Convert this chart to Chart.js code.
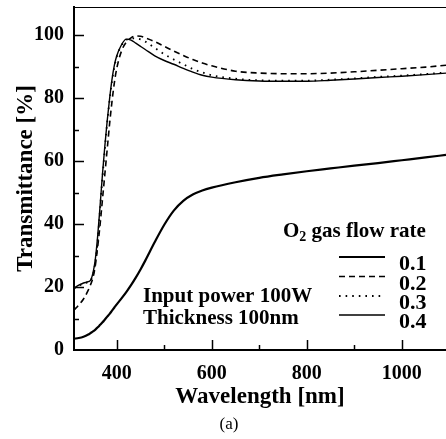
<!DOCTYPE html>
<html>
<head>
<meta charset="utf-8">
<script src="https://cdn.jsdelivr.net/npm/chart.js@4/dist/chart.umd.min.js"></script>
<style>
  html, body { margin: 0; padding: 0; background: #fff; }
  #wrap { width: 446px; height: 439px; position: relative; }
</style>
</head>
<body>
<div id="wrap"><canvas id="transmittance-chart"></canvas></div>
<script>
// wavelength grid [nm], shared by all curves
const wavelength = [310, 320, 330, 340, 345, 350, 355, 360, 365, 370, 375, 380, 385, 390, 395, 400,
    410, 420, 430, 440, 450, 460, 480, 500, 520, 540, 560, 580, 600, 650, 700, 750, 800, 850,
    900, 950, 1000, 1050, 1093];

// transmittance [%] for each O2 gas flow rate
const rate01 = [3.6, 3.8, 4.2, 4.9, 5.4, 5.9, 6.5, 7.2, 8.0, 8.8, 9.7, 10.6, 11.5, 12.5, 13.5, 14.5,
    16.4, 18.4, 20.6, 23.0, 25.6, 28.4, 34.3, 39.8, 44.3, 47.4, 49.4, 50.7, 51.6, 53.3, 54.7, 55.8, 56.8, 57.7,
    58.6, 59.4, 60.3, 61.2, 62.0];
const rate02 = [12.7, 14.3, 16.2, 19.0, 20.8, 23.0, 27.0, 33.0, 40.0, 48.0, 56.0, 64.0, 72.0, 79.0, 85.0, 89.5,
    95.0, 97.8, 99.2, 99.8, 99.7, 99.2, 98.0, 96.5, 95.0, 93.6, 92.3, 91.2, 90.3, 88.6, 88.0, 87.8, 87.8, 88.0,
    88.4, 88.9, 89.4, 89.9, 90.5];
const rate03 = [19.5, 20.4, 21.1, 21.6, 22.0, 24.0, 28.0, 35.0, 45.0, 55.0, 64.0, 72.5, 79.5, 85.5, 90.0, 93.2,
    96.8, 98.5, 99.0, 99.0, 98.7, 98.0, 96.0, 94.0, 92.3, 90.8, 89.3, 88.2, 87.3, 86.2, 85.7, 85.6, 85.6, 85.9,
    86.3, 86.8, 87.2, 87.7, 88.2];
const rate04 = [19.7, 20.6, 21.3, 21.7, 22.2, 24.5, 29.0, 36.5, 46.0, 56.0, 65.0, 73.0, 80.0, 86.0, 90.5, 93.5,
    97.0, 98.8, 98.5, 97.5, 96.5, 95.5, 93.5, 92.0, 90.8, 89.5, 88.3, 87.3, 86.7, 85.9, 85.5, 85.4, 85.4, 85.7,
    86.1, 86.6, 87.0, 87.5, 88.0];

const flowRates = ['0.1', '0.2', '0.3', '0.4'];
const xMajor = [400, 600, 800, 1000];
const xMinor = [500, 700, 900];
const yMajor = [0, 20, 40, 60, 80, 100];
const yMinor = [10, 30, 50, 70, 90];

const serif = '"Liberation Serif", "Times New Roman", serif';
const lineStyles = [
    { dash: [], width: 2.2 },
    { dash: [6, 4], width: 1.6 },
    { dash: [1.6, 5], width: 1.8 },
    { dash: [], width: 1.4 }
];

// inward ticks, top frame line, legend and notes
const decorations = {
    id: 'decorations',
    afterDraw(chart) {
        const ctx = chart.ctx;
        const x = chart.scales.x;
        const y = chart.scales.y;
        const area = chart.chartArea;
        ctx.save();
        ctx.strokeStyle = '#000';

        ctx.lineWidth = 1;
        ctx.beginPath();
        ctx.moveTo(area.left, area.top + 0.5);
        ctx.lineTo(area.right, area.top + 0.5);
        ctx.stroke();

        ctx.lineWidth = 1.5;
        const xTick = (v, len) => {
            const px = Math.round(x.getPixelForValue(v)) + 0.5;
            ctx.beginPath();
            ctx.moveTo(px, area.bottom);
            ctx.lineTo(px, area.bottom - len);
            ctx.stroke();
        };
        const yTick = (v, len) => {
            const py = Math.round(y.getPixelForValue(v)) + 0.5;
            ctx.beginPath();
            ctx.moveTo(area.left, py);
            ctx.lineTo(area.left + len, py);
            ctx.stroke();
        };
        xMajor.forEach(v => xTick(v, 10));
        xMinor.forEach(v => xTick(v, 5));
        yMajor.slice(1).forEach(v => yTick(v, 10));
        yMinor.forEach(v => yTick(v, 5));

        // legend
        ctx.fillStyle = '#000';
        ctx.textBaseline = 'alphabetic';
        ctx.textAlign = 'left';
        ctx.font = 'bold 21px ' + serif;
        ctx.fillText('O', 283, 237);
        let ox = 283 + ctx.measureText('O').width;
        ctx.font = 'bold 14px ' + serif;
        ctx.fillText('2', ox, 241);
        ox += ctx.measureText('2').width;
        ctx.font = 'bold 21px ' + serif;
        ctx.fillText(' gas flow rate', ox, 237);

        const lineY = [257, 276.5, 296, 315];
        flowRates.forEach((r, i) => {
            ctx.setLineDash(lineStyles[i].dash);
            ctx.lineWidth = lineStyles[i].width;
            ctx.beginPath();
            ctx.moveTo(339, lineY[i]);
            ctx.lineTo(385, lineY[i]);
            ctx.stroke();
            ctx.setLineDash([]);
            ctx.font = 'bold 22px ' + serif;
            ctx.fillText(r, 399, lineY[i] + 13);
        });

        ctx.font = 'bold 21px ' + serif;
        ctx.fillText('Input power 100W', 143, 302);
        ctx.fillText('Thickness 100nm', 143, 324);

        ctx.font = '17px ' + serif;
        ctx.textAlign = 'center';
        ctx.fillText('(a)', 229, 429);
        ctx.restore();
    }
};

const setUpChart = () => {
    const ctx = document.getElementById('transmittance-chart');
    const series = [rate01, rate02, rate03, rate04];

    new Chart(ctx, {
        type: 'line',
        data: {
            datasets: series.map((vals, i) => ({
                label: flowRates[i],
                data: wavelength.map((w, j) => ({ x: w, y: vals[j] })),
                borderColor: '#000',
                borderWidth: lineStyles[i].width,
                borderDash: lineStyles[i].dash,
                pointRadius: 0,
                fill: false,
                cubicInterpolationMode: 'monotone'
            }))
        },
        options: {
            responsive: true,
            maintainAspectRatio: false,
            animation: false,
            devicePixelRatio: 1,
            layout: { padding: { top: 7, right: 0, bottom: 28, left: 0 } },
            plugins: { legend: { display: false }, tooltip: { enabled: false } },
            scales: {
                x: {
                    type: 'linear',
                    min: 310,
                    max: 1093,
                    afterBuildTicks: s => { s.ticks = xMajor.map(v => ({ value: v })); },
                    afterFit: s => { s.height = 61; s.paddingLeft = 0; s.paddingRight = 0; },
                    grid: { display: false, drawTicks: false },
                    border: { display: true, color: '#000', width: 2 },
                    ticks: {
                        color: '#000',
                        padding: 12,
                        maxRotation: 0,
                        autoSkip: false,
                        callback: v => String(v),
                        font: { family: serif, size: 20, weight: 'bold' }
                    },
                    title: {
                        display: true,
                        text: 'Wavelength [nm]',
                        color: '#000',
                        padding: 0,
                        font: { family: serif, size: 23, weight: 'bold' }
                    }
                },
                y: {
                    min: 0,
                    max: 109,
                    afterBuildTicks: s => { s.ticks = yMajor.map(v => ({ value: v })); },
                    afterFit: s => { s.width = 74; s.paddingTop = 0; s.paddingBottom = 0; },
                    grid: { display: false, drawTicks: false },
                    border: { display: true, color: '#000', width: 2 },
                    ticks: {
                        color: '#000',
                        padding: 10,
                        autoSkip: false,
                        callback: v => String(v),
                        font: { family: serif, size: 20, weight: 'bold' }
                    },
                    title: {
                        display: true,
                        text: 'Transmittance [%]',
                        color: '#000',
                        padding: { top: 12, bottom: 0 },
                        font: { family: serif, size: 23, weight: 'bold' }
                    }
                }
            }
        },
        plugins: [decorations]
    });
};

window.onload = () => {
    setUpChart();
};
</script>
</body>
</html>
